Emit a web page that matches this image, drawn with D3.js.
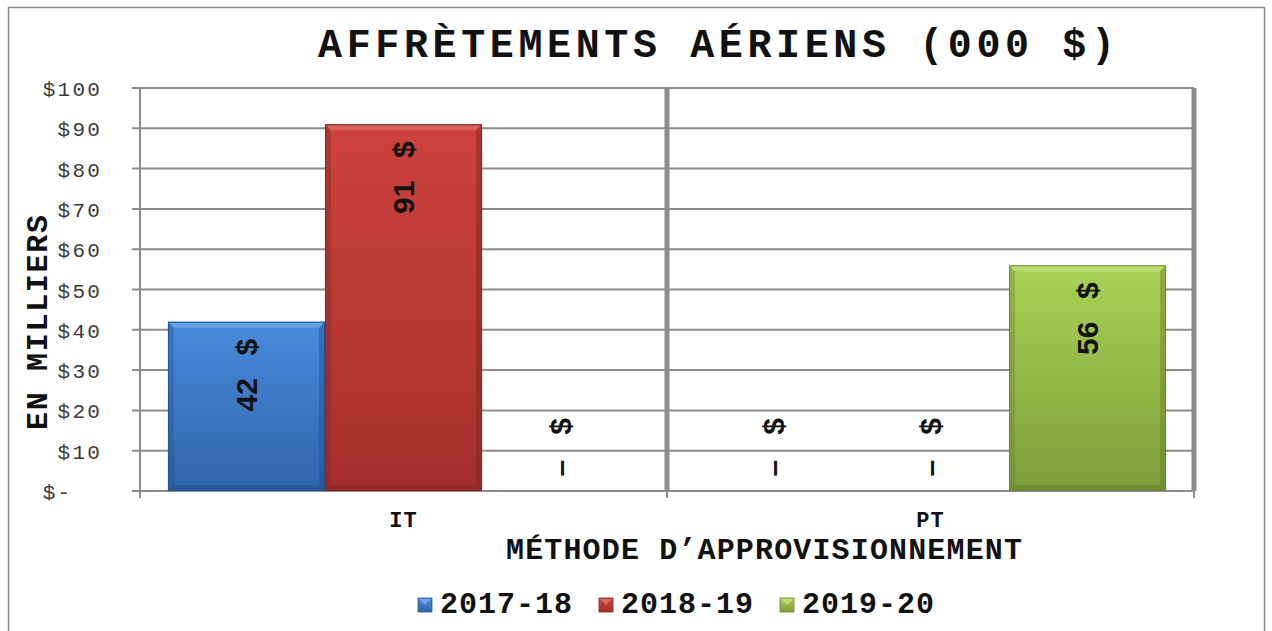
<!DOCTYPE html>
<html>
<head>
<meta charset="utf-8">
<script src="https://cdn.jsdelivr.net/npm/d3@7/dist/d3.min.js"></script>
<style>
  html, body { margin: 0; padding: 0; background: #ffffff; }
  svg { display: block; }
  text { white-space: pre; }
</style>
</head>
<body>
<svg id="chart" width="1272" height="631"></svg>
<script>
// ---- data ----
const categories = ["IT", "PT"];
const seriesNames = ["2017-18", "2018-19", "2019-20"];
const values201718 = [42, 0];
const values201819 = [91, 0];
const values201920 = [0, 56];
const yTickValues = [0, 10, 20, 30, 40, 50, 60, 70, 80, 90, 100];
const titleText = "AFFRÈTEMENTS AÉRIENS (000 $)";
const yTitleText = "EN MILLIERS";
const xTitleText = "MÉTHODE D’APPROVISIONNEMENT";

const seriesValues = [values201718, values201819, values201920];

// ---- styles ----
const palette = [
  { top: "#4a8bdc", bottom: "#2f64a9", edge: "#2a5790", light: "#7fb0ee", dark: "#24508a" },
  { top: "#cc423e", bottom: "#a52f2d", edge: "#842624", light: "#e07a76", dark: "#7e2422" },
  { top: "#aad255", bottom: "#7e9e3b", edge: "#6a8731", light: "#c9e68a", dark: "#62802c" }
];
const gridColor = "#8c8c8c";
const mono = "'Liberation Mono', 'DejaVu Sans Mono', monospace";
const sans = "'Liberation Sans', Arial, sans-serif";

const svg = d3.select("#chart");
const defs = svg.append("defs");

palette.forEach((p, i) => {
  const g = defs.append("linearGradient").attr("id", "grad" + i)
    .attr("x1", 0).attr("y1", 0).attr("x2", 0).attr("y2", 1);
  g.append("stop").attr("offset", "0%").attr("stop-color", p.top);
  g.append("stop").attr("offset", "100%").attr("stop-color", p.bottom);
});

// outer border
svg.append("rect")
  .attr("x", 8.5).attr("y", 7.5).attr("width", 1256).attr("height", 660)
  .attr("fill", "none").attr("stroke", "#8a8a8a").attr("stroke-width", 1.5);

// ---- scales ----
const plotLeft = 140, plotRight = 1194, plotTop = 88, plotBottom = 491;
const x0 = d3.scaleBand().domain(categories).range([plotLeft, plotRight]).paddingInner(0).paddingOuter(0);
const x1 = d3.scaleBand().domain(seriesNames).range([0, x0.bandwidth()]).paddingInner(0).paddingOuter(0.178);
const y = d3.scaleLinear().domain([0, 100]).range([plotBottom, plotTop]);

// ---- gridlines ----
const grid = svg.append("g");
grid.selectAll("line.h").data(yTickValues).enter().append("line")
  .attr("x1", plotLeft - 8).attr("x2", plotRight)
  .attr("y1", d => y(d)).attr("y2", d => y(d))
  .attr("stroke", gridColor).attr("stroke-width", 2);

// vertical separators (category boundaries)
const boundaries = categories.map(c => x0(c) + x0.bandwidth());
grid.selectAll("line.v").data(boundaries).enter().append("line")
  .attr("x1", d => d).attr("x2", d => d)
  .attr("y1", plotTop).attr("y2", plotBottom)
  .attr("stroke", gridColor).attr("stroke-width", 5);

// left axis line
grid.append("line")
  .attr("x1", plotLeft).attr("x2", plotLeft)
  .attr("y1", plotTop).attr("y2", plotBottom + 7)
  .attr("stroke", gridColor).attr("stroke-width", 2);
// bottom ticks
grid.selectAll("line.bt").data(boundaries).enter().append("line")
  .attr("x1", d => d).attr("x2", d => d)
  .attr("y1", plotBottom).attr("y2", plotBottom + 7)
  .attr("stroke", gridColor).attr("stroke-width", 2);

// ---- y axis labels (via d3 axis) ----
const yAxis = d3.axisLeft(y).tickValues(yTickValues).tickSize(0).tickPadding(0)
  .tickFormat(d => d === 0 ? "$-\u00a0\u00a0" : "$" + d);
const yAxisG = svg.append("g").attr("transform", `translate(${100},0)`).call(yAxis);
yAxisG.select(".domain").remove();
yAxisG.selectAll("text")
  .attr("font-family", mono).attr("font-size", 21).attr("letter-spacing", 2.2)
  .attr("fill", "#3a3a3a").attr("dy", "0.36em").attr("x", 2);

// ---- bars ----
const flat = [];
categories.forEach((c, ci) => {
  seriesNames.forEach((s, si) => {
    flat.push({ cat: c, ser: s, si: si, v: seriesValues[si][ci] });
  });
});

const barsG = svg.append("g");
const bev = 6;
flat.filter(d => d.v > 0).forEach(d => {
  const bx = x0(d.cat) + x1(d.ser);
  const bw = x1.bandwidth();
  const by = y(d.v);
  const bh = y(0) - y(d.v);
  const p = palette[d.si];
  const g = barsG.append("g");
  g.append("rect").attr("x", bx).attr("y", by).attr("width", bw).attr("height", bh)
    .attr("fill", `url(#grad${d.si})`);
  // top bevel
  g.append("polygon")
    .attr("points", [[bx, by], [bx + bw, by], [bx + bw - bev, by + bev], [bx + bev, by + bev]].map(q => q.join(",")).join(" "))
    .attr("fill", p.light).attr("opacity", 0.55);
  // left bevel
  g.append("polygon")
    .attr("points", [[bx, by], [bx + bev, by + bev], [bx + bev, by + bh - bev], [bx, by + bh]].map(q => q.join(",")).join(" "))
    .attr("fill", p.dark).attr("opacity", 0.35);
  // right bevel
  g.append("polygon")
    .attr("points", [[bx + bw, by], [bx + bw, by + bh], [bx + bw - bev, by + bh - bev], [bx + bw - bev, by + bev]].map(q => q.join(",")).join(" "))
    .attr("fill", p.dark).attr("opacity", 0.45);
  // bottom bevel
  g.append("polygon")
    .attr("points", [[bx, by + bh], [bx + bev, by + bh - bev], [bx + bw - bev, by + bh - bev], [bx + bw, by + bh]].map(q => q.join(",")).join(" "))
    .attr("fill", p.dark).attr("opacity", 0.5);
  g.append("rect").attr("x", bx + 0.5).attr("y", by + 0.5).attr("width", bw - 1).attr("height", bh - 1)
    .attr("fill", "none").attr("stroke", p.edge).attr("stroke-width", 1);
});

// ---- data labels ----
const labelsG = svg.append("g");
flat.forEach(d => {
  const cx = x0(d.cat) + x1(d.ser) + x1.bandwidth() / 2;
  const txt = d.v === 0 ? "\u2013\u00a0\u00a0\u00a0$" : d.v + "\u00a0\u00a0\u2009$";
  const yEnd = d.v === 0 ? y(0) - 73 : y(d.v) + 17;
  labelsG.append("text")
    .attr("transform", `translate(${cx},${yEnd}) rotate(-90)`)
    .attr("text-anchor", "end")
    .attr("dy", "0.36em")
    .attr("font-family", sans).attr("font-weight", "bold").attr("font-size", 30)
    .attr("fill", "#111")
    .text(txt);
});

// ---- category labels ----
svg.append("g").selectAll("text").data(categories).enter().append("text")
  .attr("x", d => x0(d) + x0.bandwidth() / 2).attr("y", 527)
  .attr("text-anchor", "middle")
  .attr("font-family", mono).attr("font-weight", "bold").attr("font-size", 22)
  .attr("letter-spacing", 1)
  .attr("fill", "#111").text(d => d);

// ---- titles ----
svg.append("text")
  .attr("x", 318).attr("y", 57)
  .attr("textLength", 797).attr("lengthAdjust", "spacing")
  .attr("font-family", mono).attr("font-weight", "bold").attr("font-size", 40)
  .attr("fill", "#111").text(titleText);

svg.append("text")
  .attr("x", 506).attr("y", 559)
  .attr("textLength", 516).attr("lengthAdjust", "spacing")
  .attr("font-family", mono).attr("font-weight", "bold").attr("font-size", 30)
  .attr("fill", "#111").text(xTitleText);

svg.append("text")
  .attr("transform", `translate(47,430) rotate(-90)`)
  .attr("textLength", 215).attr("lengthAdjust", "spacing")
  .attr("font-family", mono).attr("font-weight", "bold").attr("font-size", 30)
  .attr("fill", "#111").text(yTitleText);

// ---- legend ----
const legendX = [418, 599, 780];
const legG = svg.append("g");
seriesNames.forEach((s, i) => {
  const lx = legendX[i], ly = 598;
  const p = palette[i];
  legG.append("rect").attr("x", lx).attr("y", ly).attr("width", 14).attr("height", 14)
    .attr("fill", `url(#grad${i})`).attr("stroke", p.edge).attr("stroke-width", 0.8);
  legG.append("polygon")
    .attr("points", `${lx + 1},${ly + 1} ${lx + 13},${ly + 1} ${lx + 7},${ly + 7}`)
    .attr("fill", p.light).attr("opacity", 0.7);
  legG.append("text")
    .attr("x", lx + 22).attr("y", ly + 15)
    .attr("textLength", 132).attr("lengthAdjust", "spacing")
    .attr("font-family", mono).attr("font-weight", "bold").attr("font-size", 30)
    .attr("fill", "#111").text(s);
});
</script>
</body>
</html>
